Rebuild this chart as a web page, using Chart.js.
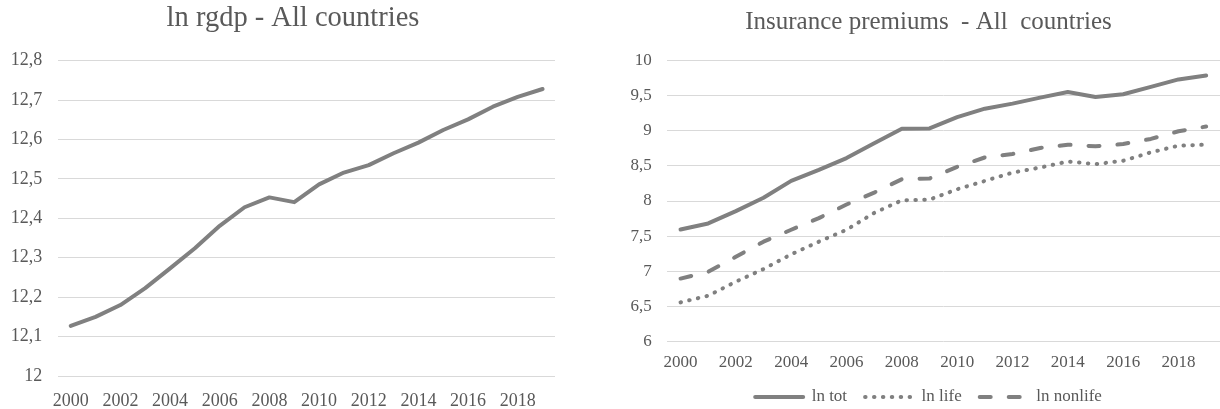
<!DOCTYPE html>
<html>
<head>
<meta charset="utf-8">
<script src="https://cdn.jsdelivr.net/npm/chart.js@4.4.1/dist/chart.umd.min.js"></script>
<style>
  body { margin: 0; background: #fff; overflow: hidden; }
  #wrap { position: relative; width: 1220px; height: 409px; overflow: hidden; }
  canvas { position: absolute; top: 0; }
  #rgdpChart { left: 0; }
  #premChart { left: 600px; }
</style>
</head>
<body>
<div id="wrap">
  <canvas id="rgdpChart" width="600" height="409"></canvas>
  <canvas id="premChart" width="657" height="409"></canvas>
</div>
<script>
// data
const years = ['2000', '2001', '2002', '2003', '2004', '2005', '2006', '2007', '2008', '2009',
  '2010', '2011', '2012', '2013', '2014', '2015', '2016', '2017', '2018', '2019']

const lnRgdp = [12.127, 12.150, 12.180, 12.223, 12.273, 12.324, 12.381, 12.428, 12.453, 12.441,
  12.486, 12.516, 12.535, 12.565, 12.592, 12.624, 12.651, 12.683, 12.708, 12.728]

const lnTot = [7.593, 7.68, 7.856, 8.047, 8.287, 8.444, 8.612, 8.822, 9.029, 9.035,
  9.195, 9.316, 9.388, 9.474, 9.555, 9.483, 9.522, 9.626, 9.733, 9.79]
const lnLife = [6.555, 6.65, 6.85, 7.03, 7.24, 7.42, 7.59, 7.83, 8.01, 8.02,
  8.167, 8.286, 8.405, 8.477, 8.563, 8.526, 8.573, 8.693, 8.789, 8.803]
const lnNonlife = [6.894, 6.99, 7.205, 7.42, 7.59, 7.756, 7.95, 8.12, 8.31, 8.32,
  8.487, 8.621, 8.67, 8.756, 8.803, 8.779, 8.813, 8.885, 8.994, 9.062]

const rgdpTicks = ['12', '12,1', '12,2', '12,3', '12,4', '12,5', '12,6', '12,7', '12,8']
const premTicks = ['6', '6,5', '7', '7,5', '8', '8,5', '9', '9,5', '10']

const serif = '"Liberation Serif", "Times New Roman", serif'
const textColor = '#595959'
const lineColor = '#808080'
const gridColor = '#d9d9d9'

Chart.defaults.font.family = serif
Chart.defaults.color = textColor

function yearLabel(v, i) {
  return i % 2 === 0 ? years[i] : ''
}

// legend entries drawn as short lines with the dataset's own dash
function lineLegend(chart) {
  const items = Chart.defaults.plugins.legend.labels.generateLabels(chart)
  return items.map((item, i) => {
    const ds = chart.data.datasets[i]
    item.pointStyle = 'line'
    item.strokeStyle = ds.borderColor
    item.lineWidth = ds.borderWidth
    item.lineDash = ds.borderDash || []
    item.lineCap = 'round'
    return item
  })
}

// left chart
new Chart(document.getElementById('rgdpChart'), {
  type: 'line',
  data: {
    labels: years,
    datasets: [{
      label: 'ln rgdp',
      data: lnRgdp,
      borderColor: lineColor,
      borderWidth: 4,
      borderCapStyle: 'round',
      borderJoinStyle: 'round',
      pointRadius: 0,
      tension: 0
    }]
  },
  options: {
    responsive: false,
    animation: false,
    layout: { padding: { left: 0, right: 14, top: 0, bottom: 0 } },
    plugins: {
      legend: { display: false },
      tooltip: { enabled: false },
      title: {
        display: true,
        text: 'ln rgdp - All countries',
        color: textColor,
        font: { size: 28.5, weight: 'normal' },
        padding: { top: 1.6, bottom: 24.8 }
      }
    },
    scales: {
      x: {
        offset: true,
        grid: { display: false, drawTicks: false },
        border: { display: false },
        ticks: { autoSkip: false, maxRotation: 0, padding: 14, font: { size: 18 }, callback: yearLabel },
        afterFit: s => { s.height = 33 }
      },
      y: {
        min: 12,
        max: 12.8,
        grid: { color: gridColor, lineWidth: 1, drawTicks: false },
        border: { display: false },
        ticks: { stepSize: 0.1, padding: 16, font: { size: 18 }, callback: (v, i) => rgdpTicks[i] },
        afterFit: s => { s.width = 58.3 }
      },
      yR: {
        position: 'right',
        grid: { display: false },
        border: { display: false },
        ticks: { display: false },
        afterFit: s => { s.width = 31 }
      }
    }
  }
})

// right chart
new Chart(document.getElementById('premChart'), {
  type: 'line',
  data: {
    labels: years,
    datasets: [
      {
        label: 'ln tot',
        data: lnTot,
        borderColor: lineColor,
        borderWidth: 4,
        borderCapStyle: 'round',
        borderJoinStyle: 'round',
        pointRadius: 0,
        tension: 0
      },
      {
        label: 'ln life',
        data: lnLife,
        borderColor: lineColor,
        borderWidth: 4,
        borderDash: [0.5, 8.4],
        borderCapStyle: 'round',
        borderJoinStyle: 'round',
        pointRadius: 0,
        tension: 0
      },
      {
        label: 'ln nonlife',
        data: lnNonlife,
        borderColor: lineColor,
        borderWidth: 4,
        borderDash: [11, 18],
        borderCapStyle: 'round',
        borderJoinStyle: 'round',
        pointRadius: 0,
        tension: 0
      }
    ]
  },
  options: {
    responsive: false,
    animation: false,
    layout: { padding: { left: 0, right: 0, top: 0, bottom: -6.5 } },
    plugins: {
      tooltip: { enabled: false },
      title: {
        display: true,
        text: 'Insurance premiums  - All  countries',
        color: textColor,
        font: { size: 25, weight: 'normal' },
        padding: { top: 7.3, bottom: 23.4 }
      },
      legend: {
        position: 'bottom',
        labels: {
          usePointStyle: true,
          pointStyleWidth: 48,
          padding: 18,
          color: textColor,
          font: { size: 17 },
          generateLabels: lineLegend
        }
      }
    },
    scales: {
      x: {
        offset: true,
        grid: { display: false, drawTicks: false },
        border: { display: false },
        ticks: { autoSkip: false, maxRotation: 0, padding: 11.5, font: { size: 17 }, callback: yearLabel },
        afterFit: s => { s.height = 29.2 }
      },
      y: {
        min: 6,
        max: 10,
        grid: { color: gridColor, lineWidth: 1, drawTicks: false },
        border: { display: false },
        ticks: { stepSize: 0.5, padding: 15, font: { size: 17 }, callback: (v, i) => premTicks[i] },
        afterFit: s => { s.width = 66.7 }
      },
      yR: {
        position: 'right',
        grid: { display: false },
        border: { display: false },
        ticks: { display: false },
        afterFit: s => { s.width = 37 }
      }
    }
  }
})
</script>
</body>
</html>
